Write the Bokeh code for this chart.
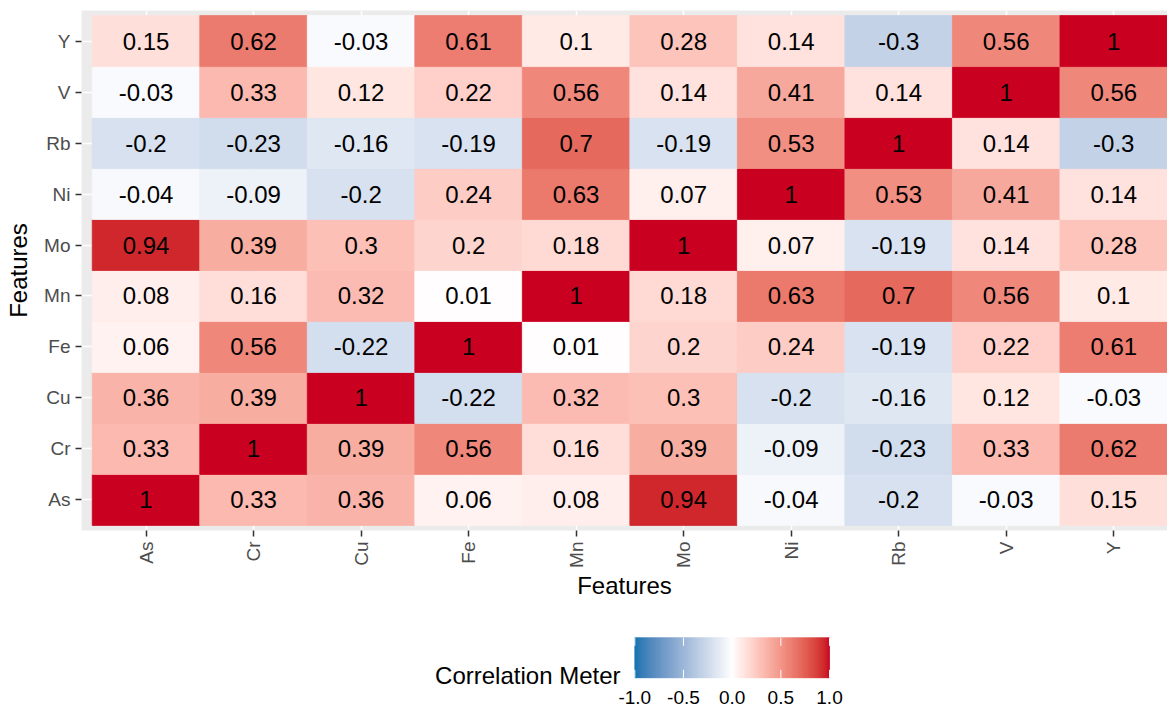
import math
import numpy as np
from bokeh.plotting import figure
from bokeh.layouts import column
from bokeh.models import Range1d, FixedTicker, ColumnDataSource
from bokeh.core.properties import value
from bokeh.embed import file_html
from bokeh.resources import INLINE

# ---------------- data ----------------
features = ["As", "Cr", "Cu", "Fe", "Mn", "Mo", "Ni", "Rb", "V", "Y"]
row_As = [1, 0.33, 0.36, 0.06, 0.08, 0.94, -0.04, -0.2, -0.03, 0.15]
row_Cr = [0.33, 1, 0.39, 0.56, 0.16, 0.39, -0.09, -0.23, 0.33, 0.62]
row_Cu = [0.36, 0.39, 1, -0.22, 0.32, 0.3, -0.2, -0.16, 0.12, -0.03]
row_Fe = [0.06, 0.56, -0.22, 1, 0.01, 0.2, 0.24, -0.19, 0.22, 0.61]
row_Mn = [0.08, 0.16, 0.32, 0.01, 1, 0.18, 0.63, 0.7, 0.56, 0.1]
row_Mo = [0.94, 0.39, 0.3, 0.2, 0.18, 1, 0.07, -0.19, 0.14, 0.28]
row_Ni = [-0.04, -0.09, -0.2, 0.24, 0.63, 0.07, 1, 0.53, 0.41, 0.14]
row_Rb = [-0.2, -0.23, -0.16, -0.19, 0.7, -0.19, 0.53, 1, 0.14, -0.3]
row_V = [-0.03, 0.33, 0.12, 0.22, 0.56, 0.14, 0.41, 0.14, 1, 0.56]
row_Y = [0.15, 0.62, -0.03, 0.61, 0.1, 0.28, 0.14, -0.3, 0.56, 1]
rows = [row_As, row_Cr, row_Cu, row_Fe, row_Mn, row_Mo, row_Ni, row_Rb, row_V, row_Y]

legend_breaks = [-1.0, -0.5, 0.0, 0.5, 1.0]
legend_labels = ["-1.0", "-0.5", "0.0", "0.5", "1.0"]
legend_title = "Correlation Meter"
axis_title = "Features"

LOW, MID, HIGH = "#0571B0", "#FFFFFF", "#CA0020"

# ---------------- colour helpers (Lab interpolation like scales::div_gradient_pal) ----------------
M = np.array([[0.4124564, 0.3575761, 0.1804375],
              [0.2126729, 0.7151522, 0.0721750],
              [0.0193339, 0.1191920, 0.9503041]])
MINV = np.linalg.inv(M)
WHITE = np.array([0.95047, 1.0, 1.08883])
D = 6 / 29


def hex_to_lab(h):
    rgb = np.array([int(h[i:i + 2], 16) for i in (1, 3, 5)]) / 255.0
    lin = np.where(rgb <= 0.04045, rgb / 12.92, ((rgb + 0.055) / 1.055) ** 2.4)
    t = (M @ lin) / WHITE
    f = np.where(t > D ** 3, np.cbrt(t), t / (3 * D * D) + 4 / 29)
    return np.array([116 * f[1] - 16, 500 * (f[0] - f[1]), 200 * (f[1] - f[2])])


def lab_to_hex(lab):
    L, a, b = lab
    fy = (L + 16) / 116
    f = np.array([fy + a / 500, fy, fy - b / 200])
    t = np.where(f > D, f ** 3, 3 * D * D * (f - 4 / 29))
    lin = MINV @ (t * WHITE)
    lin = np.clip(lin, 0, 1)
    s = np.where(lin <= 0.0031308, 12.92 * lin, 1.055 * lin ** (1 / 2.4) - 0.055)
    s = np.clip(np.round(s * 255), 0, 255).astype(int)
    return "#%02x%02x%02x" % tuple(s)


LAB_LOW, LAB_MID, LAB_HIGH = hex_to_lab(LOW), hex_to_lab(MID), hex_to_lab(HIGH)


def corr_color(v):
    if v >= 0:
        return lab_to_hex(LAB_MID + (LAB_HIGH - LAB_MID) * min(v, 1))
    return lab_to_hex(LAB_MID + (LAB_LOW - LAB_MID) * min(-v, 1))


# ---------------- main heatmap ----------------
xs, ys, vals = [], [], []
for j, row in enumerate(rows):
    for i, v in enumerate(row):
        xs.append(i)
        ys.append(j)
        vals.append(v)
src = ColumnDataSource(dict(
    x=xs, y=ys, v=vals,
    color=[corr_color(v) for v in vals],
    label=[f"{v:g}" for v in vals],
))

FONT = "Liberation Sans"
W = 1167
LEFT = 81

p = figure(width=W, height=610,
           x_range=Range1d(-0.6, 9.5), y_range=Range1d(-0.6, 9.6),
           output_backend="svg", toolbar_location=None,
           min_border_left=LEFT, min_border_right=0, min_border_top=10, min_border_bottom=80)
p.background_fill_color = "#EBEBEB"
p.border_fill_color = "white"
p.outline_line_color = None

ticker = FixedTicker(ticks=list(range(len(features))))
overrides = {i: f for i, f in enumerate(features)}
for ax in (p.xaxis[0], p.yaxis[0]):
    ax.ticker = ticker
    ax.major_label_overrides = overrides
    ax.axis_line_color = None
    ax.major_tick_line_color = "#333333"
    ax.major_tick_line_width = 1.5
    ax.major_tick_out = 6
    ax.major_tick_in = 0
    ax.minor_tick_line_color = None
    ax.major_label_text_color = "#4D4D4D"
    ax.major_label_text_font = FONT
    ax.major_label_text_font_size = "19px"
    ax.axis_label = axis_title
    ax.axis_label_text_font = FONT
    ax.axis_label_text_font_size = "24px"
    ax.axis_label_text_font_style = "normal"
    ax.axis_label_text_color = "black"

p.xaxis.major_label_orientation = math.pi / 2
p.xaxis.major_label_standoff = 5
p.xaxis.axis_label_standoff = 1
p.yaxis.major_label_standoff = 5
p.yaxis.axis_label_standoff = 9

p.xgrid.ticker = ticker
p.ygrid.ticker = ticker
p.grid.grid_line_color = "white"
p.grid.grid_line_width = 1.5
p.grid.minor_grid_line_color = None

p.rect(x="x", y="y", width=1, height=1, fill_color="color", line_color="color",
       line_width=0.8, source=src)
p.text(x="x", y="y", text="label", text_align="center", text_baseline="middle",
       text_font=value(FONT), text_font_size="24px", text_color="black", source=src)

# ---------------- legend (colour bar) ----------------
LEG_H = 98
bar_left_px, bar_right_px = 634.3, 829.0   # page pixels
scale = (bar_right_px - bar_left_px) / (legend_breaks[-1] - legend_breaks[0])
x0 = legend_breaks[0] - (bar_left_px - LEFT) / scale
x1 = legend_breaks[-1] + (W - bar_right_px) / scale

leg = figure(width=W, height=LEG_H, x_range=Range1d(x0, x1), y_range=Range1d(LEG_H, 0),
             output_backend="svg", toolbar_location=None,
             x_axis_location=None, y_axis_location=None,
             min_border_left=LEFT, min_border_right=0, min_border_top=0, min_border_bottom=0)
leg.grid.visible = False
leg.outline_line_color = None
leg.background_fill_color = "white"
leg.border_fill_color = "white"

bar_top, bar_bot = 27.3, 67.3
n = 300
edges = np.linspace(legend_breaks[0], legend_breaks[-1], n + 1)
mids = (edges[:-1] + edges[1:]) / 2
bar_cols = [corr_color(m) for m in mids]
leg.quad(left=edges[:-1], right=edges[1:], top=bar_top, bottom=bar_bot,
         fill_color=bar_cols, line_color=bar_cols, line_width=0.6)

tick_len = (bar_bot - bar_top) / 5
leg.segment(x0=legend_breaks, x1=legend_breaks, y0=bar_top, y1=bar_top + tick_len,
            line_color="white", line_width=1)
leg.segment(x0=legend_breaks, x1=legend_breaks, y0=bar_bot - tick_len, y1=bar_bot,
            line_color="white", line_width=1)

leg.text(x=legend_breaks, y=86.7, text=legend_labels, text_align="center", text_baseline="middle",
         text_font=value(FONT), text_font_size="19px", text_color="black")
leg.text(x=[legend_breaks[0] - 14.3 / scale], y=[64.5], text=[legend_title],
         text_align="right", text_baseline="middle",
         text_font=value(FONT), text_font_size="24px", text_color="black")

layout = column(p, leg, spacing=0)
open("out.html", "w").write(file_html(layout, INLINE))
